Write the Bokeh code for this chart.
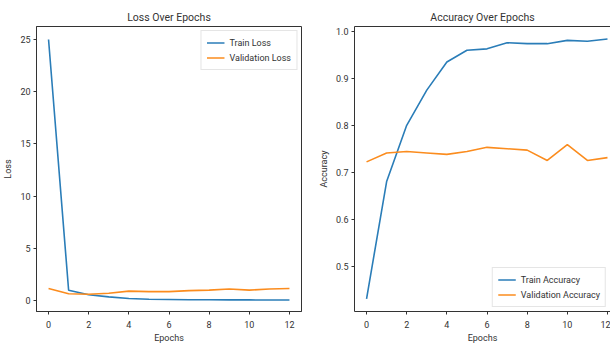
from bokeh.plotting import figure
from bokeh.layouts import row
from bokeh.models import FixedTicker, Range1d, Legend, LegendItem, LinearAxis, PrintfTickFormatter
from bokeh.embed import file_html
from bokeh.resources import INLINE

epochs = list(range(13))
train_loss = [25.0, 0.98, 0.55, 0.35, 0.2, 0.12, 0.1, 0.07, 0.07, 0.06, 0.06, 0.05, 0.05]
val_loss = [1.15, 0.65, 0.6, 0.7, 0.9, 0.85, 0.85, 0.95, 1.0, 1.1, 1.0, 1.1, 1.15]
train_acc = [0.43, 0.68, 0.80, 0.875, 0.935, 0.96, 0.963, 0.976, 0.974, 0.974, 0.981, 0.979, 0.984]
val_acc = [0.722, 0.741, 0.744, 0.741, 0.738, 0.744, 0.753, 0.75, 0.747, 0.725, 0.759, 0.725, 0.731]
x_ticks = [0, 2, 4, 6, 8, 10, 12]
loss_ticks = [0, 5, 10, 15, 20, 25]
acc_ticks = [0.5, 0.6, 0.7, 0.8, 0.9, 1.0]

BLUE = "#2a7db8"
ORANGE = "#fb8c1e"
FONT = "Roboto"
TXT = "#333333"
H = 345


def style(p, xlabel, ylabel, yticks):
    p.title.text_font = FONT
    p.title.text_font_size = "10.5px"
    p.title.text_font_style = "normal"
    p.title.align = "center"
    p.title.text_color = TXT
    p.title.standoff = 5
    p.xgrid.visible = False
    p.ygrid.visible = False
    p.xaxis.ticker = FixedTicker(ticks=x_ticks)
    p.yaxis.ticker = FixedTicker(ticks=yticks)
    p.xaxis.axis_label = xlabel
    p.yaxis.axis_label = ylabel
    for ax in p.xaxis + p.yaxis:
        ax.axis_label_text_font = FONT
        ax.axis_label_text_font_size = "9px"
        ax.axis_label_text_font_style = "normal"
        ax.axis_label_text_color = TXT
        ax.axis_label_standoff = 4
        ax.major_label_text_font = FONT
        ax.major_label_text_font_size = "9px"
        ax.major_label_text_color = TXT
        ax.major_label_standoff = 3
        ax.major_tick_out = 3
        ax.major_tick_in = 0
        ax.minor_tick_out = 0
        ax.minor_tick_in = 0
        ax.axis_line_color = "#333333"
        ax.major_tick_line_color = "#333333"
    p.xaxis.axis_label_standoff = 2
    p.xaxis.major_label_standoff = 6
    p.toolbar_location = None


# Loss figure
p1 = figure(width=305, height=H, output_backend="svg", toolbar_location=None,
            title="Loss Over Epochs",
            x_range=Range1d(-0.6, 12.6), y_range=Range1d(-1.05, 26.24),
            min_border_left=36, min_border_right=4, min_border_top=26, min_border_bottom=0)
style(p1, "Epochs", "Loss", loss_ticks)
p1.outline_line_color = "#333333"
r1 = p1.line(epochs, train_loss, line_color=BLUE, line_width=1.6)
r2 = p1.line(epochs, val_loss, line_color=ORANGE, line_width=1.6)
leg1 = Legend(items=[LegendItem(label="Train Loss", renderers=[r1]),
                     LegendItem(label="Validation Loss", renderers=[r2])],
              location="top_right")
p1.add_layout(leg1, "center")

# Accuracy figure
p2 = figure(width=305, height=H, output_backend="svg", toolbar_location=None,
            title="Accuracy Over Epochs",
            x_range=Range1d(-0.6, 12.15), y_range=Range1d(0.403, 1.0106),
            min_border_left=49, min_border_right=0, min_border_top=26, min_border_bottom=0)
style(p2, "Epochs", "Accuracy", acc_ticks)
p2.yaxis.formatter = PrintfTickFormatter(format="%.1f")
p2.outline_line_color = None
top_ax = LinearAxis(ticker=FixedTicker(ticks=[]), major_tick_line_color=None,
                    minor_tick_line_color=None, axis_line_color="#333333")
p2.add_layout(top_ax, "above")
r3 = p2.line(epochs, train_acc, line_color=BLUE, line_width=1.6)
r4 = p2.line(epochs, val_acc, line_color=ORANGE, line_width=1.6)
leg2 = Legend(items=[LegendItem(label="Train Accuracy", renderers=[r3]),
                     LegendItem(label="Validation Accuracy", renderers=[r4])],
              location="bottom_right")
p2.add_layout(leg2, "center")

for leg in (leg1, leg2):
    leg.label_text_font = FONT
    leg.label_text_font_size = "9px"
    leg.label_text_color = TXT
    leg.glyph_width = 18
    leg.glyph_height = 13
    leg.label_height = 13
    leg.spacing = 2
    leg.padding = 5
    leg.margin = 4
    leg.border_line_color = "#cccccc"
    leg.background_fill_alpha = 0.8

layout = row(p1, p2)
open("out.html", "w").write(file_html(layout, INLINE))
